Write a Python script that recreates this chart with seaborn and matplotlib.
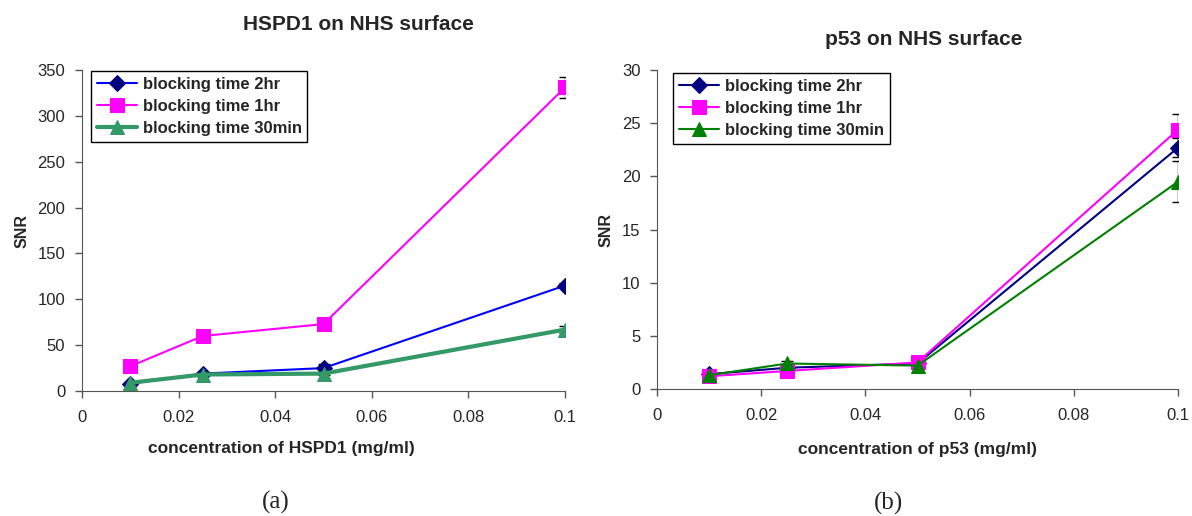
import numpy as np
import pandas as pd
import seaborn as sns
from matplotlib import pyplot as plt

conc = [0.01, 0.025, 0.05, 0.1]
series = ["blocking time 2hr", "blocking time 1hr", "blocking time 30min"]

# HSPD1 panel
hspd1_2hr = [8, 19, 25, 115]
hspd1_1hr = [27, 60, 73, 331]
hspd1_30min = [9, 18, 19, 67]
hspd1_err_2hr = [1, 2, 5, 3]
hspd1_err_1hr = [1, 2, 2, 11]
hspd1_err_30min = [1, 1, 2, 4]

# p53 panel
p53_2hr = [1.4, 2.0, 2.4, 22.7]
p53_1hr = [1.2, 1.7, 2.5, 24.4]
p53_30min = [1.3, 2.4, 2.2, 19.5]
p53_err_2hr = [0.1, 0.2, 0.1, 0.9]
p53_err_1hr = [0.1, 0.3, 0.1, 1.5]
p53_err_30min = [0.1, 0.2, 0.1, 1.9]

sns.set_style("ticks")
plt.rcParams['font.family'] = ['Liberation Sans', 'DejaVu Sans']

def make_df(vals):
	rows = []
	for name, v in zip(series, vals):
		for x, y in zip(conc, v):
			rows.append({"conc": x, "SNR": y, "series": name})
	return pd.DataFrame(rows)

def draw(ax, vals, errs, colors, mcolors, lws, ymax, ystep, xlabel, xlab_pos, leg_anchor):
	df = make_df(vals)
	markers = {"blocking time 2hr": "D", "blocking time 1hr": "s", "blocking time 30min": "^"}
	msize = {"blocking time 2hr": 8, "blocking time 1hr": 9.5, "blocking time 30min": 10}
	for name, c, mc, lw, e in zip(series, colors, mcolors, lws, errs):
		d = df[df["series"] == name]
		ax.errorbar(d["conc"], d["SNR"], yerr=e, fmt="none", ecolor="black",
					elinewidth=1, capsize=4, capthick=1, zorder=1)
		sns.lineplot(data=d, x="conc", y="SNR", ax=ax, color=c, lw=lw,
					 marker=markers[name], markersize=msize[name],
					 markerfacecolor=mc, markeredgecolor=mc, label=name, zorder=2)
	ax.set_xlim(0, 0.1)
	ax.set_ylim(0, ymax)
	ax.set_xticks([0, 0.02, 0.04, 0.06, 0.08, 0.1])
	ax.set_xticklabels(["0", "0.02", "0.04", "0.06", "0.08", "0.1"])
	ax.set_yticks(np.arange(0, ymax + 1, ystep))
	ax.tick_params(labelsize=12, length=5, width=1, color="#555555")
	ax.tick_params(axis="x", pad=9)
	ax.tick_params(axis="y", pad=7)
	for s in ["top", "right"]:
		ax.spines[s].set_visible(False)
	for s in ["left", "bottom"]:
		ax.spines[s].set_color("#555555")
	ax.set_xlabel(xlabel, fontsize=12.5, fontweight="bold")
	ax.xaxis.label.set_va("center")
	ax.xaxis.set_label_coords(*xlab_pos)
	ax.set_ylabel("SNR", fontsize=11.5, fontweight="bold", labelpad=6)
	leg = ax.legend(loc="upper left", bbox_to_anchor=leg_anchor, borderaxespad=0,
					frameon=True, fancybox=False,
					prop={"weight": "bold", "size": 12}, handlelength=2.4,
					borderpad=0.35, labelspacing=0.42, handletextpad=0.35)
	leg.get_frame().set_edgecolor("black")
	leg.get_frame().set_linewidth(1)
	leg.get_frame().set_alpha(1)

fig = plt.figure(figsize=(11.92, 5.16), dpi=100)
ax1 = fig.add_axes([0.0688, 0.2422, 0.4052, 0.6221])
ax2 = fig.add_axes([0.5512, 0.2461, 0.4371, 0.6182])

draw(ax1, [hspd1_2hr, hspd1_1hr, hspd1_30min],
	 [hspd1_err_2hr, hspd1_err_1hr, hspd1_err_30min],
	 ["#0000FF", "#FF00FF", "#339966"], ["#000080", "#FF00FF", "#339966"],
	 [1.5, 1.5, 3], 350, 50, "concentration of HSPD1 (mg/ml)",
	 (0.412, -0.1775), (0.0186, 0.997))

draw(ax2, [p53_2hr, p53_1hr, p53_30min],
	 [p53_err_2hr, p53_err_1hr, p53_err_30min],
	 ["#000080", "#FF00FF", "#008000"], ["#000080", "#FF00FF", "#008000"],
	 [1.5, 1.5, 1.5], 30, 5, "concentration of p53 (mg/ml)",
	 (0.499, -0.191), (0.0307, 0.9906))

fig.text(0.3003, 0.9516, "HSPD1 on NHS surface", fontsize=15, fontweight="bold",
		 ha="center", va="center")
fig.text(0.7752, 0.9225, "p53 on NHS surface", fontsize=15, fontweight="bold",
		 ha="center", va="center")

fig.text(0.2315, 0.027, "(a)", fontsize=18, family=["Liberation Serif"], ha="center", va="center")
fig.text(0.7458, 0.025, "(b)", fontsize=18, family=["Liberation Serif"], ha="center", va="center")

fig.savefig("out.png", dpi=100)
